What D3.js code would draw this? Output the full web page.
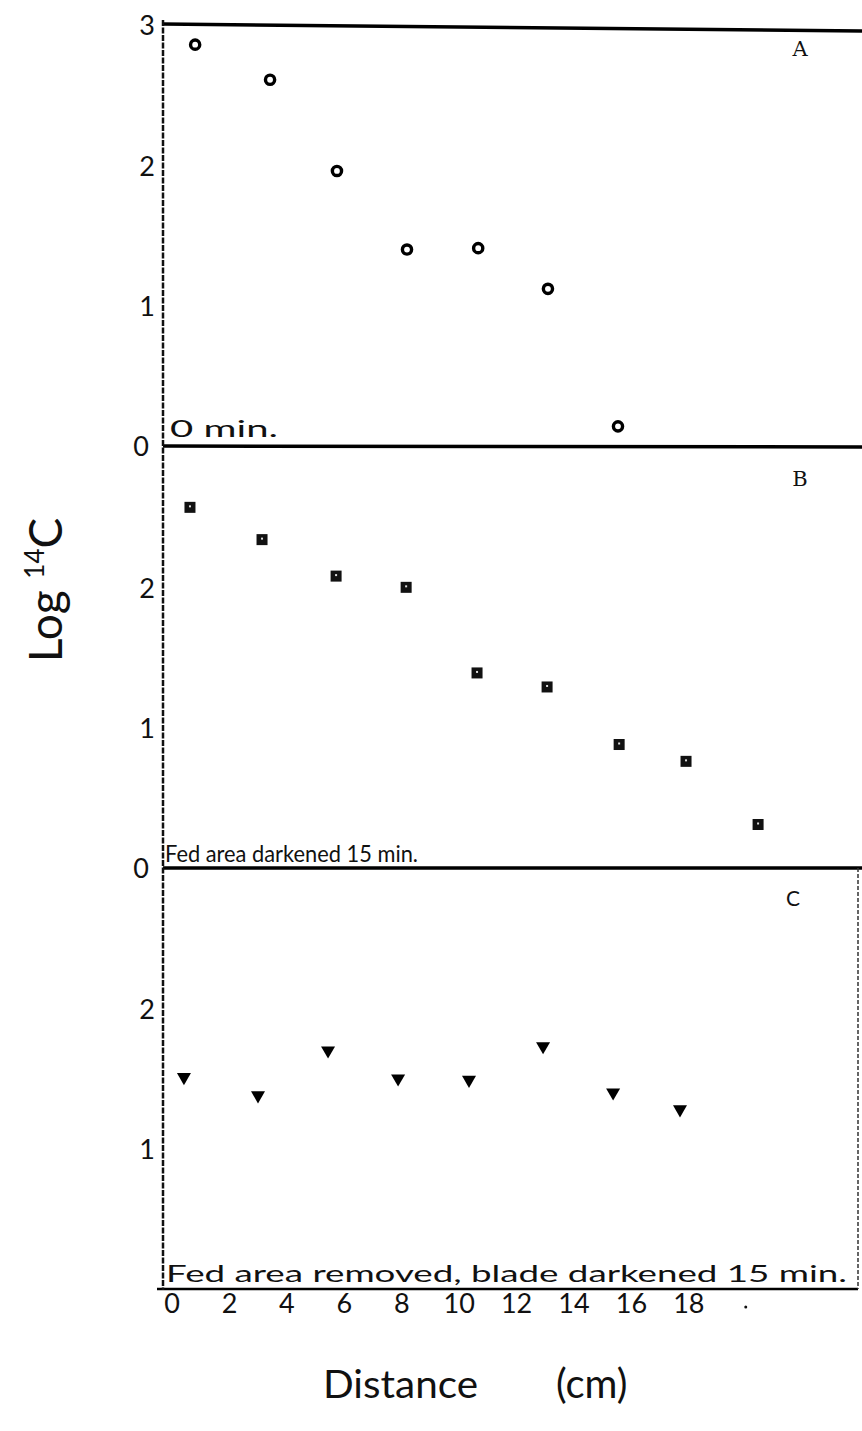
<!DOCTYPE html>
<html><head><meta charset="utf-8">
<script src="https://cdn.jsdelivr.net/npm/d3@7"></script>
<style>body{margin:0;background:#fff}svg{display:block}</style>
</head><body>
<svg id="c" width="862" height="1431"></svg>
<script>
// Distance (cm) and Log 14C values
const aX = [0.82, 3.43, 5.76, 8.20, 10.68, 13.11, 15.55];
const aY = [2.86, 2.61, 1.96, 1.40, 1.41, 1.12, 0.14];
const bX = [0.64, 3.15, 5.73, 8.17, 10.64, 13.08, 15.59, 17.92, 20.43];
const bY = [2.57, 2.34, 2.08, 2.00, 1.39, 1.29, 0.88, 0.76, 0.31];
const cX = [0.43, 3.01, 5.45, 7.89, 10.36, 12.94, 15.38, 17.71];
const cY = [1.51, 1.38, 1.70, 1.50, 1.49, 1.73, 1.40, 1.28];
const xTicks = [0, 2, 4, 6, 8, 10, 12, 14, 16, 18];
const yTicksA = [0, 1, 2, 3];
const yTicksB = [0, 1, 2];
const yTicksC = [1, 2];
const panelLetters = ["A", "B", "C"];
const panelNotes = ["0 min.", "Fed area darkened 15 min.", "Fed area removed, blade darkened 15 min."];

const svg = d3.select("#c");
const font = "Lato, 'DejaVu Sans', sans-serif";
const x = d3.scaleLinear().domain([0, 24.05]).range([171.6, 862]);
const panels = [
  {y: d3.scaleLinear().domain([0, 3]).range([446, 25]), xs: aX, ys: aY, ticks: yTicksA, type: "circle"},
  {y: d3.scaleLinear().domain([0, 3]).range([868, 447]), xs: bX, ys: bY, ticks: yTicksB, type: "square"},
  {y: d3.scaleLinear().domain([0, 3]).range([1289, 868]), xs: cX, ys: cY, ticks: yTicksC, type: "tri"}
];
const axisX = 163;

// frame lines
svg.append("line").attr("x1", axisX).attr("x2", 862).attr("y1", panels[0].y(3) - 1).attr("y2", panels[0].y(3) + 6)
  .attr("stroke", "#000").attr("stroke-width", 3.5);
svg.append("line").attr("x1", axisX).attr("x2", 862).attr("y1", panels[0].y(0)).attr("y2", panels[0].y(0) + 1)
  .attr("stroke", "#000").attr("stroke-width", 3.5);
svg.append("line").attr("x1", axisX).attr("x2", 862).attr("y1", panels[1].y(0)).attr("y2", panels[1].y(0))
  .attr("stroke", "#000").attr("stroke-width", 3.5);
svg.append("line").attr("x1", 157).attr("x2", 858).attr("y1", panels[2].y(0)).attr("y2", panels[2].y(0))
  .attr("stroke", "#000").attr("stroke-width", 2.5);
svg.append("line").attr("x1", 858).attr("x2", 858).attr("y1", panels[2].y(3)).attr("y2", panels[2].y(0))
  .attr("stroke", "#333").attr("stroke-width", 1.5).attr("stroke-dasharray", "4,2");
svg.append("line").attr("x1", axisX).attr("x2", axisX).attr("y1", 20).attr("y2", 1290)
  .attr("stroke", "#111").attr("stroke-width", 2.5).attr("stroke-dasharray", "6,1.5");

// y tick labels
panels.forEach((p, i) => {
  const g = svg.append("g").attr("transform", `translate(${axisX - 8},0)`)
    .call(d3.axisLeft(p.y).tickValues(p.ticks).tickSize(0).tickPadding(0).tickFormat(d3.format("d")));
  g.select(".domain").remove();
  g.selectAll("text").attr("font-family", font).attr("font-size", 27).attr("fill", "#111")
    .attr("text-anchor", "middle").attr("dx", d => d === 0 ? -14 : -8).attr("dy", "0.36em");
});

// x tick labels
const gx = svg.append("g").attr("transform", `translate(0,1292)`)
  .call(d3.axisBottom(x).tickValues(xTicks).tickSize(0).tickPadding(2).tickFormat(d3.format("d")));
gx.select(".domain").remove();
gx.selectAll("text").attr("font-family", font).attr("font-size", 27).attr("fill", "#111");
svg.append("circle").attr("cx", x(20)).attr("cy", 1307).attr("r", 1.5).attr("fill", "#111");

// markers
panels.forEach(p => {
  const data = p.xs.map((v, i) => [v, p.ys[i]]);
  const g = svg.append("g");
  if (p.type === "circle") {
    g.selectAll("circle").data(data).join("circle")
      .attr("cx", d => x(d[0])).attr("cy", d => p.y(d[1])).attr("r", 4.6)
      .attr("fill", "#fff").attr("stroke", "#000").attr("stroke-width", 3.4);
  } else if (p.type === "square") {
    g.selectAll("rect.o").data(data).join("rect").attr("class", "o")
      .attr("x", d => x(d[0]) - 5.5).attr("y", d => p.y(d[1]) - 5.5).attr("width", 11).attr("height", 11)
      .attr("fill", "#111");
    g.selectAll("rect.i").data(data).join("rect").attr("class", "i")
      .attr("x", d => x(d[0]) - 1).attr("y", d => p.y(d[1]) - 2).attr("width", 2).attr("height", 2)
      .attr("fill", "#ddd");
  } else {
    const tri = d3.symbol().type(d3.symbolTriangle).size(85);
    g.selectAll("path").data(data).join("path")
      .attr("d", tri)
      .attr("transform", d => `translate(${x(d[0])},${p.y(d[1])}) rotate(180)`)
      .attr("fill", "#000");
  }
});

// panel letters
const letterPos = [[800, 56], [800, 486], [793, 906]];
panelLetters.forEach((t, i) => {
  svg.append("text").attr("x", letterPos[i][0]).attr("y", letterPos[i][1]).attr("text-anchor", "middle")
    .attr("font-family", i === 2 ? font : "'DejaVu Serif', serif").attr("font-size", 21).attr("fill", "#111").text(t);
});

// panel notes
const notePos = [[170, 437, 108], [165, 862, 253], [166, 1282, 681]];
panelNotes.forEach((t, i) => {
  svg.append("text").attr("x", notePos[i][0]).attr("y", notePos[i][1])
    .attr("font-family", font).attr("font-size", 24).attr("fill", "#111")
    .attr("textLength", notePos[i][2]).attr("lengthAdjust", "spacingAndGlyphs").text(t);
});

// axis titles
const yt = svg.append("text").attr("transform", "translate(62,590) rotate(-90)").attr("text-anchor", "middle")
  .attr("font-family", font).attr("font-size", 46).attr("fill", "#111");
yt.append("tspan").text("Log ");
yt.append("tspan").attr("font-size", 26).attr("dy", -18).text("14");
yt.append("tspan").attr("dy", 18).text("C");

svg.append("text").attr("x", 323).attr("y", 1398)
  .attr("font-family", font).attr("font-size", 38).attr("fill", "#111")
  .attr("textLength", 155).attr("lengthAdjust", "spacingAndGlyphs").text("Distance");
svg.append("text").attr("x", 556).attr("y", 1398)
  .attr("font-family", font).attr("font-size", 40).attr("fill", "#111").text("(cm)");
</script>
</body></html>
